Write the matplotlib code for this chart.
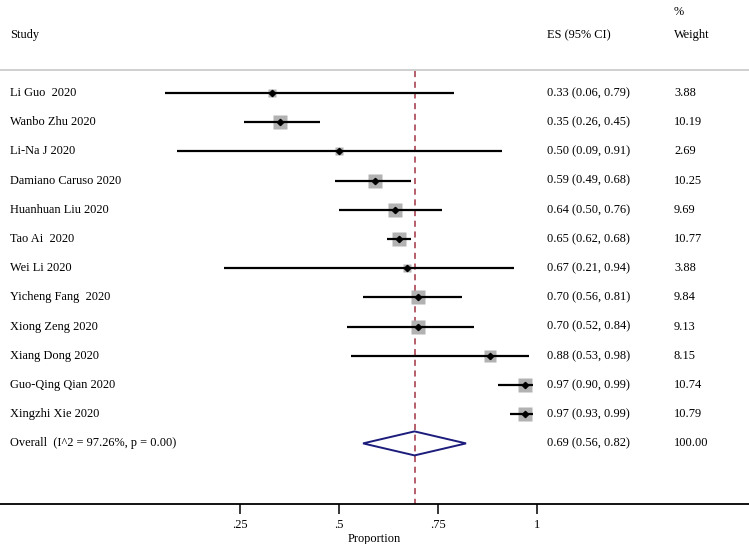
import matplotlib
matplotlib.use("Agg")
import matplotlib.pyplot as plt
from matplotlib.patches import Polygon

studies = ["Li Guo  2020", "Wanbo Zhu 2020", "Li-Na J 2020", "Damiano Caruso 2020",
           "Huanhuan Liu 2020", "Tao Ai  2020", "Wei Li 2020", "Yicheng Fang  2020",
           "Xiong Zeng 2020", "Xiang Dong 2020", "Guo-Qing Qian 2020", "Xingzhi Xie 2020"]
es = [0.33, 0.35, 0.50, 0.59, 0.64, 0.65, 0.67, 0.70, 0.70, 0.88, 0.97, 0.97]
lo = [0.06, 0.26, 0.09, 0.49, 0.50, 0.62, 0.21, 0.56, 0.52, 0.53, 0.90, 0.93]
hi = [0.79, 0.45, 0.91, 0.68, 0.76, 0.68, 0.94, 0.81, 0.84, 0.98, 0.99, 0.99]
weights = [3.88, 10.19, 2.69, 10.25, 9.69, 10.77, 3.88, 9.84, 9.13, 8.15, 10.74, 10.79]

overall_label = "Overall  (I^2 = 97.26%, p = 0.00)"
overall_es, overall_lo, overall_hi, overall_w = 0.69, 0.56, 0.82, 100.00

tick_vals = [0.25, 0.5, 0.75, 1.0]
tick_labels = [".25", ".5", ".75", "1"]

plt.rcParams['font.family'] = ['Liberation Serif', 'DejaVu Serif']
FS = 8.9

W, H = 749, 544
fig = plt.figure(figsize=(W / 100, H / 100), dpi=100)
ax = fig.add_axes([0, 0, 1, 1])

# pixel mapping
x0_px, px_per_unit = 141.3, 396.0
row0_px, row_px = 93.0, 29.2
def py(p):
    return (p - row0_px) / row_px
def px(p):
    return (p - x0_px) / px_per_unit

ax.set_xlim(px(0), px(W))
ax.set_ylim(py(H), py(0))

n = len(studies)
for i in range(n):
    side_px = 4.5 * weights[i] ** 0.5
    ax.plot([es[i]], [i], marker='s', ms=side_px * 0.72, color='#b2b2b2',
            mec='none', zorder=2)
    ax.plot([lo[i], hi[i]], [i, i], color='black', lw=1.6, zorder=3,
            solid_capstyle='butt')
    ax.plot([es[i]], [i], marker='D', ms=3.2, color='black', zorder=4)
    ax.text(px(10), i, studies[i], fontsize=FS, va='center', ha='left')
    ax.text(px(546.7), i, f"{es[i]:.2f} ({lo[i]:.2f}, {hi[i]:.2f})",
            fontsize=FS, va='center', ha='left')
    ax.text(px(674), i, f"{weights[i]:.2f}", fontsize=FS, va='center', ha='left')

# overall
r = n
hh = 12 / row_px
diamond = Polygon([(overall_lo, r), (overall_es, r - hh), (overall_hi, r),
                   (overall_es, r + hh)], closed=True, fill=False,
                  edgecolor='#1c1c7c', lw=1.4, zorder=5)
ax.add_patch(diamond)
ax.text(px(10), r, overall_label, fontsize=FS, va='center', ha='left')
ax.text(px(546.7), r, f"{overall_es:.2f} ({overall_lo:.2f}, {overall_hi:.2f})",
        fontsize=FS, va='center', ha='left')
ax.text(px(674), r, f"{overall_w:.2f}", fontsize=FS, va='center', ha='left')

# headers
ax.text(px(10), py(35), "Study", fontsize=FS, va='center', ha='left')
ax.text(px(546.7), py(35), "ES (95% CI)", fontsize=FS, va='center', ha='left')
ax.text(px(674), py(35), "Weight", fontsize=FS, va='center', ha='left')
ax.text(px(674), py(12), "%", fontsize=FS, va='center', ha='left')

# separator line
ax.axhline(py(70), color='#cbcbcb', lw=1.3, zorder=1)

# overall dashed line
ax.vlines(overall_es, py(71), py(504), colors='#a23344', lw=1.1,
          linestyles=(0, (4, 3)), zorder=1)

# axis
for s in ['top', 'left', 'right']:
    ax.spines[s].set_visible(False)
ax.spines['bottom'].set_position(('data', py(504)))
ax.spines['bottom'].set_linewidth(1.3)
ax.set_yticks([])
ax.set_xticks(tick_vals)
ax.set_xticklabels(tick_labels, fontsize=FS)
ax.tick_params(axis='x', direction='out', length=7, width=1.1, pad=4)
ax.set_xlabel("Proportion", fontsize=FS, labelpad=1)
ax.patch.set_visible(False)

fig.savefig("out.png", dpi=100)
